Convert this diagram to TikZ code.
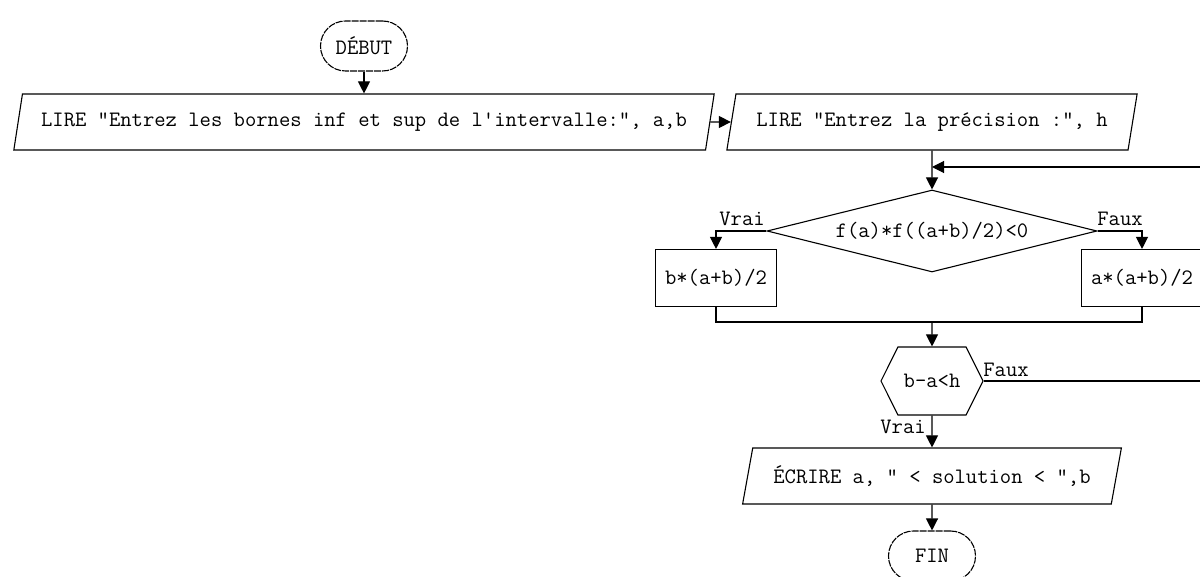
\documentclass[tikz,border=0pt]{standalone}
\usepackage{fontspec}
\usepackage{tikz}
\usetikzlibrary{arrows.meta}
\usetikzlibrary{shapes.geometric,shapes.symbols}

\begin{document}
\begin{tikzpicture}[x=1pt,y=-1pt]
  \tikzset{base/.style = {draw,line width=1.1pt,font=\ttfamily\fontsize{22}{24}\selectfont,inner sep=2pt}}
  \tikzset{terminal/.style = {base,rectangle,rounded corners=25pt,minimum width=87pt,minimum height=50pt,dash pattern=on 7pt off 1pt}}
  \tikzset{io/.style = {base,trapezium,trapezium left angle=70,trapezium right angle=110,trapezium stretches=true,minimum height=56pt}}
  \tikzset{process/.style = {base,rectangle,minimum width=121pt,minimum height=57pt}}
  \tikzset{decision/.style = {base,diamond,aspect=4,minimum width=330pt,minimum height=82pt,inner sep=0pt}}
  \tikzset{testloop/.style = {base,signal,signal to=west and east,signal pointer angle=127,minimum width=102pt,minimum height=68pt}}
  \tikzset{lbl/.style = {font=\ttfamily\fontsize{22}{24}\selectfont,inner sep=0pt}}
  \tikzset{tipA/.tip={Triangle[length=12pt,width=12pt]}}
  \tikzset{edge/.style = {line width=1.1pt,-tipA}}
  \tikzset{line/.style = {line width=1.1pt}}

  \useasboundingbox (0,0) rectangle (1200,577);
  \clip (0,0) rectangle (1200,577);

	\node[terminal] (debut) at (364,46) {DÉBUT};
	\node[io,minimum width=703pt] (lirebornes) at (364,122) {LIRE "Entrez les bornes inf et sup de l'intervalle:", a,b};
	\node[io,minimum width=411pt] (lireprec) at (932,122) {LIRE "Entrez la précision :", h};

	\node[decision] (cond) at (932,231) {f(a)*f((a+b)/2)<0};
	\node[process] (alors) at (716,278) {b*(a+b)/2};
	\node[process] (sinon) at (1142,278) {a*(a+b)/2};

	\node[testloop] (test) at (932,381) {b-a<h};
	\node[io,minimum width=379pt] (ecrire) at (932,476) {ÉCRIRE a, " < solution < ",b};
	\node[terminal] (fin) at (932,556) {FIN};

	\node[lbl] (vrai1) at (742,219) {Vrai};
	\node[lbl] (faux1) at (1120,219) {Faux};
	\node[lbl] (faux2) at (1006,370) {Faux};
	\node[lbl] (vrai2) at (903,427) {Vrai};

	\coordinate (retour) at (932,167);
	\coordinate (jonction) at (932,322);
	\coordinate (bord) at (1215,381);

    \foreach \from/\to in {debut/lirebornes, lirebornes/lireprec, lireprec/cond, jonction/test, test/ecrire, ecrire/fin}
    \draw[edge] (\from) -- (\to);

    \draw[edge] (cond.west) -| (alors.north);
    \draw[edge] (cond.east) -| (sinon.north);
    \draw[line] (alors.south) |- (jonction) -| (sinon.south);
    \draw[edge] (test.east) -- (bord) |- (retour);

\end{tikzpicture}
\end{document}
